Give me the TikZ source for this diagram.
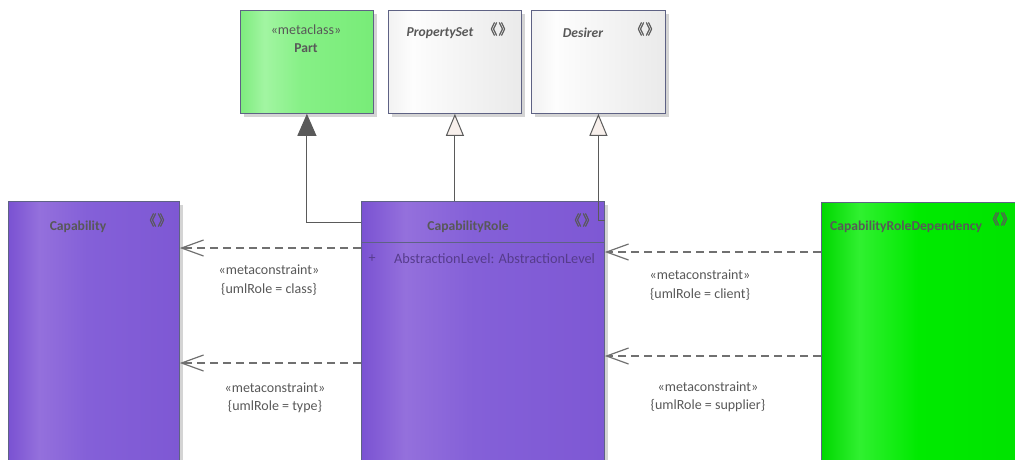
\documentclass[tikz,border=0pt]{standalone}
\usepackage{fontspec}
\setmainfont{Carlito}
\newfontfamily\cjk{Noto Sans CJK SC}[FakeBold=1.6]
\usetikzlibrary{arrows.meta,shadows,calc}
\definecolor{boxline}{HTML}{5E6284}
\definecolor{shadowgray}{HTML}{D4D4D4}
\definecolor{txtgray}{HTML}{585858}
\definecolor{attrcol}{HTML}{563C8C}
\definecolor{linegray}{HTML}{5A5A5A}
\definecolor{dashgray}{HTML}{707070}
\definecolor{trifill}{HTML}{F8F0EC}
\definecolor{pA}{HTML}{7A52D2}
\definecolor{pB}{HTML}{9470DC}
\definecolor{pC}{HTML}{8460D8}
\definecolor{pD}{HTML}{7E58D4}
\definecolor{gA}{HTML}{7EEC7E}
\definecolor{gB}{HTML}{A2F5A2}
\definecolor{gC}{HTML}{86F086}
\definecolor{gD}{HTML}{78EC78}
\definecolor{wA}{HTML}{F2F2F2}
\definecolor{wB}{HTML}{FDFDFD}
\definecolor{wC}{HTML}{F6F6F6}
\definecolor{wD}{HTML}{EAEAEA}
\definecolor{cA}{HTML}{00D800}
\definecolor{cB}{HTML}{30F030}
\definecolor{cC}{HTML}{00EA00}
\definecolor{cD}{HTML}{00E200}
\pgfdeclarehorizontalshading{purp}{100bp}{color(0bp)=(pA); color(25bp)=(pA); color(34bp)=(pB); color(48bp)=(pC); color(75bp)=(pD); color(100bp)=(pD)}
\pgfdeclarehorizontalshading{grn}{100bp}{color(0bp)=(gA); color(25bp)=(gA); color(34bp)=(gB); color(48bp)=(gC); color(75bp)=(gD); color(100bp)=(gD)}
\pgfdeclarehorizontalshading{wht}{100bp}{color(0bp)=(wA); color(25bp)=(wA); color(34bp)=(wB); color(48bp)=(wC); color(75bp)=(wD); color(100bp)=(wD)}
\pgfdeclarehorizontalshading{lime}{100bp}{color(0bp)=(cA); color(25bp)=(cA); color(34bp)=(cB); color(48bp)=(cC); color(75bp)=(cD); color(100bp)=(cD)}
\tikzset{
  box/.style={draw=boxline, line width=0.8pt, anchor=north west, inner sep=0pt, shade,
    general shadow={fill=shadowgray, shadow xshift=3.5pt, shadow yshift=-3.5pt}},
  ttl/.style={text=txtgray, font=\fontsize{13.6}{16}\selectfont\bfseries, inner sep=0pt},
  ittl/.style={text=txtgray, font=\fontsize{13.6}{16}\selectfont\bfseries\itshape, inner sep=0pt},
  lbl/.style={text=txtgray, font=\fontsize{14}{16}\selectfont, inner sep=0pt},
  stereo/.style={text=txtgray, font=\fontsize{14}{15}\selectfont\cjk, inner sep=0pt},
  gen/.style={draw=linegray, line width=1pt},
  dep/.style={draw=dashgray, line width=1.2pt, dash pattern=on 8pt off 5pt,
    -{Straight Barb[length=22pt,width=16pt]}},
}
\begin{document}
\begin{tikzpicture}[x=1pt,y=-1pt]
\useasboundingbox (0,0) rectangle (1015,459);
\begin{scope}
\clip (0,0) rectangle (1015,459);
% boxes
\node[box, shading=grn, minimum width=133pt, minimum height=103pt] (part) at (240,10) {};
\node[box, shading=wht, minimum width=133pt, minimum height=103pt] (pset) at (388,10) {};
\node[box, shading=wht, minimum width=134pt, minimum height=103pt] (desirer) at (531,10) {};
\node[box, shading=purp, minimum width=171pt, minimum height=290pt] (cap) at (8,201) {};
\node[box, shading=purp, minimum width=243pt, minimum height=290pt] (crole) at (361,201) {};
\node[box, shading=lime, minimum width=210pt, minimum height=290pt] (crd) at (821,202) {};
% box texts
\node[lbl] (partst) at (306,30) {«metaclass»};
\node[ttl] (partname) at (306,48) {Part};
\node[ittl] (psetname) at (440,33) {PropertySet};
\node[stereo] (psetst) at (498,29) {《\kern1pt》};
\node[ittl] (desname) at (583,33) {Desirer};
\node[stereo] (desst) at (645,29) {《\kern1pt》};
\node[ttl] (capname) at (78,227) {Capability};
\node[stereo] (capst) at (157,220) {《\kern1pt》};
\node[ttl] (crolename) at (468,227) {CapabilityRole};
\node[stereo] (crolest) at (582,220) {《\kern1pt》};
\draw[draw=boxline, line width=0.7pt] (361,242) -- (604,242);
\node[lbl, text=attrcol] (plus) at (372,259) {+};
\node[lbl, text=attrcol, anchor=west] (attr) at (394,259) {\fontsize{14.3}{16}\selectfont AbstractionLevel: AbstractionLevel};
\node[ttl, anchor=west] (crdname) at (830,227) {CapabilityRoleDependency};
\node[stereo] (crdst) at (1000,219) {《\kern1pt》};
% generalizations
\draw[gen, -{Triangle[length=22pt,width=19pt, fill=linegray]}] ($(crole.north west)+(0,21)$) -| (part.south);
\draw[gen, -{Triangle[open, length=22pt,width=18pt, fill=trifill]}] (crole.north -| pset.south) -- (pset.south);
\draw[gen, -{Triangle[open, length=22pt,width=18pt, fill=trifill]}] ($(crole.north east)+(0,19)$) -| (desirer.south);
% dependencies
\draw[dep] ($(crole.north west)+(0,47)$) -- ($(cap.north east)+(0,47)$);
\draw[dep] ($(crole.north west)+(0,162)$) -- ($(cap.north east)+(0,162)$);
\draw[dep] ($(crd.north west)+(0,50)$) -- ($(crole.north east)+(0,51)$);
\draw[dep] ($(crd.north west)+(0,154)$) -- ($(crole.north east)+(0,155)$);
% labels
\node[lbl] (l1a) at (269,270) {«metaconstraint»};
\node[lbl] (l1b) at (269,289) {\{umlRole = class\}};
\node[lbl] (l2a) at (275,388) {«metaconstraint»};
\node[lbl] (l2b) at (275,407) {\{umlRole = type\}};
\node[lbl] (l3a) at (700,275) {«metaconstraint»};
\node[lbl] (l3b) at (700,294) {\{umlRole = client\}};
\node[lbl] (l4a) at (708,387) {«metaconstraint»};
\node[lbl] (l4b) at (708,406) {\{umlRole = supplier\}};
\end{scope}
\end{tikzpicture}
\end{document}
